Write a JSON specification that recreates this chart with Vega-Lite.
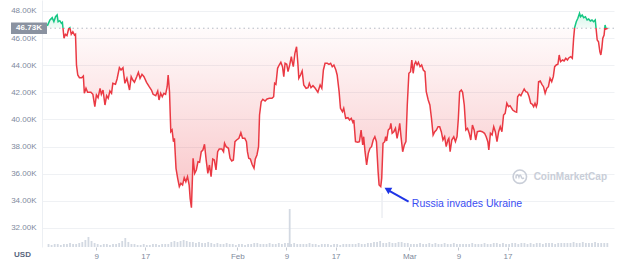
{
"$schema":"https://vega.github.io/schema/vega-lite/v6.json",
"width":572,"height":247,"autosize":"none",
"padding":{"left":42,"top":0,"right":10,"bottom":16},
"config":{"view":{"stroke":null},"font":"Liberation Sans"},
"datasets":{
"price":[
{"day":0.05,"price":46900},{"day":0.48,"price":47336},{"day":0.85,"price":47506},{"day":1.12,"price":47211},{"day":1.39,"price":47580},{"day":1.65,"price":47705},{"day":1.81,"price":47211},{"day":2.08,"price":47285},{"day":2.35,"price":47093},{"day":2.51,"price":47167},{"day":2.77,"price":45987},{"day":2.99,"price":46282},{"day":3.25,"price":46179},{"day":3.52,"price":46673},{"day":3.73,"price":46769},{"day":3.95,"price":46282},{"day":4.21,"price":46474},{"day":4.48,"price":46230},{"day":4.64,"price":46282},{"day":4.8,"price":44019},{"day":5.01,"price":43281},{"day":5.28,"price":43082},{"day":5.65,"price":43082},{"day":5.92,"price":43207},{"day":6.08,"price":41932},{"day":6.35,"price":42301},{"day":6.61,"price":42006},{"day":7.15,"price":42006},{"day":7.47,"price":41858},{"day":7.79,"price":40944},{"day":8.05,"price":41807},{"day":8.32,"price":41608},{"day":8.64,"price":42301},{"day":8.85,"price":41858},{"day":9.12,"price":42175},{"day":9.44,"price":41069},{"day":9.71,"price":41755},{"day":9.97,"price":41563},{"day":10.24,"price":42102},{"day":10.51,"price":41932},{"day":10.72,"price":42669},{"day":11.15,"price":42596},{"day":11.41,"price":42986},{"day":11.79,"price":43820},{"day":12.05,"price":43650},{"day":12.37,"price":43820},{"day":12.69,"price":42669},{"day":13.01,"price":43038},{"day":13.44,"price":42175},{"day":13.71,"price":43156},{"day":13.97,"price":42913},{"day":14.24,"price":42743},{"day":14.61,"price":43156},{"day":14.88,"price":43480},{"day":15.15,"price":43038},{"day":15.47,"price":43333},{"day":15.79,"price":43156},{"day":16.21,"price":42743},{"day":16.64,"price":42419},{"day":17.01,"price":42175},{"day":17.28,"price":41858},{"day":17.71,"price":41755},{"day":18.03,"price":42102},{"day":18.24,"price":41438},{"day":18.51,"price":41932},{"day":18.77,"price":41681},{"day":19.04,"price":41932},{"day":19.31,"price":41858},{"day":19.57,"price":42419},{"day":19.73,"price":43281},{"day":19.95,"price":42050},{"day":20.16,"price":39101},{"day":20.37,"price":39226},{"day":20.59,"price":38364},{"day":20.75,"price":38614},{"day":21.01,"price":36402},{"day":21.28,"price":35665},{"day":21.55,"price":35046},{"day":21.81,"price":35296},{"day":22.08,"price":35171},{"day":22.35,"price":35709},{"day":22.61,"price":35414},{"day":22.88,"price":35783},{"day":23.15,"price":35171},{"day":23.31,"price":34190},{"day":23.52,"price":33497},{"day":23.79,"price":37140},{"day":24.05,"price":36034},{"day":24.32,"price":36277},{"day":24.59,"price":36889},{"day":24.85,"price":36845},{"day":25.12,"price":37626},{"day":25.39,"price":37751},{"day":25.65,"price":38172},{"day":25.92,"price":37014},{"day":26.19,"price":36034},{"day":26.45,"price":36646},{"day":26.72,"price":35783},{"day":26.99,"price":37088},{"day":27.25,"price":37014},{"day":27.52,"price":36277},{"day":27.79,"price":37626},{"day":28.05,"price":37825},{"day":28.48,"price":37825},{"day":28.75,"price":37626},{"day":28.91,"price":38245},{"day":29.17,"price":37995},{"day":29.55,"price":37877},{"day":29.81,"price":37140},{"day":30.08,"price":36940},{"day":30.35,"price":37014},{"day":30.61,"price":38364},{"day":30.88,"price":38489},{"day":31.25,"price":38614},{"day":31.57,"price":39027},{"day":31.84,"price":38614},{"day":32.21,"price":38614},{"day":32.48,"price":38364},{"day":32.64,"price":37626},{"day":32.85,"price":37140},{"day":33.12,"price":37088},{"day":33.39,"price":36697},{"day":33.71,"price":36402},{"day":33.92,"price":37088},{"day":34.19,"price":37383},{"day":34.45,"price":37995},{"day":34.61,"price":40332},{"day":34.88,"price":41313},{"day":35.15,"price":41490},{"day":35.52,"price":41364},{"day":35.84,"price":41512},{"day":36.21,"price":41563},{"day":36.64,"price":41563},{"day":36.91,"price":41681},{"day":37.07,"price":42669},{"day":37.28,"price":42596},{"day":37.55,"price":43775},{"day":37.81,"price":44019},{"day":38.08,"price":44218},{"day":38.35,"price":43893},{"day":38.56,"price":43156},{"day":38.77,"price":44144},{"day":39.04,"price":44070},{"day":39.25,"price":43525},{"day":39.52,"price":44019},{"day":39.79,"price":44631},{"day":39.95,"price":44218},{"day":40.11,"price":43893},{"day":40.37,"price":44881},{"day":40.64,"price":45368},{"day":40.85,"price":44144},{"day":41.01,"price":43038},{"day":41.28,"price":43281},{"day":41.55,"price":43576},{"day":41.81,"price":42544},{"day":42.19,"price":42301},{"day":42.51,"price":42345},{"day":42.72,"price":42669},{"day":42.99,"price":42345},{"day":43.31,"price":42492},{"day":43.68,"price":42301},{"day":44.11,"price":42006},{"day":44.48,"price":42544},{"day":44.75,"price":42301},{"day":45.01,"price":43650},{"day":45.28,"price":44144},{"day":45.65,"price":44144},{"day":45.92,"price":44070},{"day":46.19,"price":44144},{"day":46.45,"price":43893},{"day":46.72,"price":44019},{"day":47.04,"price":43650},{"day":47.25,"price":43281},{"day":47.57,"price":42050},{"day":47.79,"price":40826},{"day":48.11,"price":40575},{"day":48.32,"price":40826},{"day":48.64,"price":40089},{"day":49.01,"price":40133},{"day":49.28,"price":39963},{"day":49.55,"price":40089},{"day":49.81,"price":39794},{"day":49.97,"price":39963},{"day":50.24,"price":38364},{"day":50.61,"price":38319},{"day":50.88,"price":38364},{"day":51.15,"price":39226},{"day":51.41,"price":38120},{"day":51.57,"price":38732},{"day":51.79,"price":37626},{"day":52.05,"price":36645},{"day":52.32,"price":37508},{"day":52.59,"price":37877},{"day":52.85,"price":37995},{"day":53.12,"price":38489},{"day":53.39,"price":38732},{"day":53.65,"price":38364},{"day":53.92,"price":36152},{"day":54.08,"price":35171},{"day":54.35,"price":35046},{"day":54.51,"price":35665},{"day":54.72,"price":38245},{"day":54.99,"price":38364},{"day":55.15,"price":38732},{"day":55.31,"price":38415},{"day":55.57,"price":39226},{"day":55.84,"price":39351},{"day":56.0,"price":39720},{"day":56.21,"price":38983},{"day":56.48,"price":39101},{"day":56.75,"price":39351},{"day":57.01,"price":38614},{"day":57.28,"price":39226},{"day":57.44,"price":39720},{"day":57.65,"price":38732},{"day":57.92,"price":37626},{"day":58.19,"price":38120},{"day":58.45,"price":38364},{"day":58.67,"price":41069},{"day":58.93,"price":43407},{"day":59.2,"price":43525},{"day":59.41,"price":44387},{"day":59.63,"price":43407},{"day":59.84,"price":44070},{"day":60.05,"price":44262},{"day":60.27,"price":44019},{"day":60.48,"price":44218},{"day":60.75,"price":43893},{"day":61.01,"price":44019},{"day":61.28,"price":43650},{"day":61.55,"price":43525},{"day":61.76,"price":42050},{"day":62.08,"price":41438},{"day":62.35,"price":41069},{"day":62.61,"price":40089},{"day":62.88,"price":38857},{"day":63.15,"price":39101},{"day":63.41,"price":39226},{"day":63.68,"price":39469},{"day":63.95,"price":39469},{"day":64.21,"price":39101},{"day":64.48,"price":38489},{"day":64.75,"price":38732},{"day":65.01,"price":37995},{"day":65.28,"price":38489},{"day":65.44,"price":38614},{"day":65.65,"price":37626},{"day":65.92,"price":38489},{"day":66.24,"price":38732},{"day":66.51,"price":38364},{"day":66.77,"price":38732},{"day":66.99,"price":40089},{"day":67.2,"price":42050},{"day":67.47,"price":42175},{"day":67.68,"price":42006},{"day":67.95,"price":41069},{"day":68.21,"price":39226},{"day":68.48,"price":39351},{"day":68.75,"price":38983},{"day":69.01,"price":38489},{"day":69.28,"price":39595},{"day":69.55,"price":39226},{"day":69.81,"price":38489},{"day":70.08,"price":39101},{"day":70.51,"price":39152},{"day":70.88,"price":39101},{"day":71.25,"price":38983},{"day":71.52,"price":38732},{"day":71.79,"price":38364},{"day":71.95,"price":37751},{"day":72.21,"price":38983},{"day":72.48,"price":38857},{"day":72.75,"price":39469},{"day":73.01,"price":39101},{"day":73.28,"price":38364},{"day":73.55,"price":39101},{"day":73.81,"price":39469},{"day":74.08,"price":39101},{"day":74.35,"price":40332},{"day":74.61,"price":40457},{"day":74.88,"price":41195},{"day":75.15,"price":40944},{"day":75.41,"price":41018},{"day":75.84,"price":40701},{"day":76.21,"price":40575},{"day":76.48,"price":40531},{"day":76.64,"price":41681},{"day":76.91,"price":41858},{"day":77.17,"price":41755},{"day":77.44,"price":42006},{"day":77.71,"price":42249},{"day":77.97,"price":42050},{"day":78.24,"price":42006},{"day":78.51,"price":41681},{"day":78.77,"price":41195},{"day":79.04,"price":41121},{"day":79.25,"price":40944},{"day":79.47,"price":41195},{"day":79.68,"price":40944},{"day":79.84,"price":41195},{"day":80.05,"price":42787},{"day":80.32,"price":42839},{"day":80.59,"price":42596},{"day":80.85,"price":42419},{"day":81.12,"price":41932},{"day":81.39,"price":42301},{"day":81.65,"price":42419},{"day":81.92,"price":43038},{"day":82.19,"price":42787},{"day":82.45,"price":43156},{"day":82.67,"price":43893},{"day":82.93,"price":44019},{"day":83.2,"price":44070},{"day":83.41,"price":44756},{"day":83.63,"price":44262},{"day":83.95,"price":44387},{"day":84.21,"price":44313},{"day":84.48,"price":44513},{"day":84.75,"price":44387},{"day":85.01,"price":44557},{"day":85.28,"price":44631},{"day":85.55,"price":44513},{"day":85.76,"price":45987},{"day":85.92,"price":46769},{"day":86.19,"price":47211},{"day":86.45,"price":47462},{"day":86.72,"price":47830},{"day":86.88,"price":47580},{"day":87.15,"price":47705},{"day":87.41,"price":47506},{"day":87.68,"price":47580},{"day":87.95,"price":47336},{"day":88.21,"price":47410},{"day":88.48,"price":47263},{"day":88.75,"price":47336},{"day":89.01,"price":47211},{"day":89.28,"price":47336},{"day":89.44,"price":46600},{"day":89.6,"price":45862},{"day":89.81,"price":45736},{"day":90.03,"price":44999},{"day":90.19,"price":44756},{"day":90.35,"price":45250},{"day":90.51,"price":45987},{"day":90.72,"price":46230},{"day":90.88,"price":46968},{"day":91.04,"price":46673},{"day":91.31,"price":46730}
],
"volume":[
{"day":0.25,"volume":3},{"day":0.75,"volume":2},{"day":1.25,"volume":3},{"day":1.75,"volume":3},{"day":2.25,"volume":2},{"day":2.75,"volume":3},{"day":3.25,"volume":3},{"day":3.75,"volume":4},{"day":4.25,"volume":3},{"day":4.75,"volume":3},{"day":5.25,"volume":4},{"day":5.75,"volume":5},{"day":6.25,"volume":7},{"day":6.75,"volume":10},{"day":7.25,"volume":6},{"day":7.75,"volume":4},{"day":8.25,"volume":3},{"day":8.75,"volume":2},{"day":9.25,"volume":3},{"day":9.75,"volume":3},{"day":10.25,"volume":2},{"day":10.75,"volume":3},{"day":11.25,"volume":3},{"day":11.75,"volume":4},{"day":12.25,"volume":6},{"day":12.75,"volume":9},{"day":13.25,"volume":5},{"day":13.75,"volume":3},{"day":14.25,"volume":3},{"day":14.75,"volume":2},{"day":15.25,"volume":2},{"day":15.75,"volume":3},{"day":16.25,"volume":2},{"day":16.75,"volume":2},{"day":17.25,"volume":3},{"day":17.75,"volume":3},{"day":18.25,"volume":2},{"day":18.75,"volume":3},{"day":19.25,"volume":3},{"day":19.75,"volume":3},{"day":20.25,"volume":5},{"day":20.75,"volume":6},{"day":21.25,"volume":5},{"day":21.75,"volume":6},{"day":22.25,"volume":7},{"day":22.75,"volume":6},{"day":23.25,"volume":5},{"day":23.75,"volume":5},{"day":24.25,"volume":4},{"day":24.75,"volume":5},{"day":25.25,"volume":4},{"day":25.75,"volume":4},{"day":26.25,"volume":5},{"day":26.75,"volume":4},{"day":27.25,"volume":3},{"day":27.75,"volume":4},{"day":28.25,"volume":3},{"day":28.75,"volume":3},{"day":29.25,"volume":4},{"day":29.75,"volume":3},{"day":30.25,"volume":3},{"day":30.75,"volume":2},{"day":31.25,"volume":3},{"day":31.75,"volume":3},{"day":32.25,"volume":2},{"day":32.75,"volume":3},{"day":33.25,"volume":3},{"day":33.75,"volume":4},{"day":34.25,"volume":4},{"day":34.75,"volume":3},{"day":35.25,"volume":3},{"day":35.75,"volume":3},{"day":36.25,"volume":4},{"day":36.75,"volume":3},{"day":37.25,"volume":3},{"day":37.75,"volume":4},{"day":38.25,"volume":3},{"day":38.75,"volume":4},{"day":39.25,"volume":4},{"day":39.52,"volume":38},{"day":39.75,"volume":3},{"day":40.25,"volume":4},{"day":40.75,"volume":3},{"day":41.25,"volume":3},{"day":41.75,"volume":3},{"day":42.25,"volume":3},{"day":42.75,"volume":4},{"day":43.25,"volume":3},{"day":43.75,"volume":3},{"day":44.25,"volume":2},{"day":44.75,"volume":3},{"day":45.25,"volume":3},{"day":45.75,"volume":3},{"day":46.25,"volume":2},{"day":46.75,"volume":3},{"day":47.25,"volume":3},{"day":47.75,"volume":2},{"day":48.25,"volume":3},{"day":48.75,"volume":3},{"day":49.25,"volume":3},{"day":49.75,"volume":3},{"day":50.25,"volume":3},{"day":50.75,"volume":4},{"day":51.25,"volume":3},{"day":51.75,"volume":3},{"day":52.25,"volume":4},{"day":52.75,"volume":4},{"day":53.25,"volume":5},{"day":53.75,"volume":5},{"day":54.25,"volume":6},{"day":54.75,"volume":4},{"day":55.25,"volume":4},{"day":55.75,"volume":5},{"day":56.25,"volume":4},{"day":56.75,"volume":4},{"day":57.25,"volume":5},{"day":57.75,"volume":5},{"day":58.25,"volume":4},{"day":58.75,"volume":4},{"day":59.25,"volume":3},{"day":59.75,"volume":3},{"day":60.25,"volume":3},{"day":60.75,"volume":4},{"day":61.25,"volume":3},{"day":61.75,"volume":3},{"day":62.25,"volume":4},{"day":62.75,"volume":3},{"day":63.25,"volume":4},{"day":63.75,"volume":3},{"day":64.25,"volume":3},{"day":64.75,"volume":4},{"day":65.25,"volume":3},{"day":65.75,"volume":3},{"day":66.25,"volume":4},{"day":66.75,"volume":3},{"day":67.25,"volume":3},{"day":67.75,"volume":3},{"day":68.25,"volume":3},{"day":68.75,"volume":3},{"day":69.25,"volume":4},{"day":69.75,"volume":3},{"day":70.25,"volume":3},{"day":70.75,"volume":3},{"day":71.25,"volume":4},{"day":71.75,"volume":3},{"day":72.25,"volume":3},{"day":72.75,"volume":4},{"day":73.25,"volume":4},{"day":73.75,"volume":3},{"day":74.25,"volume":4},{"day":74.75,"volume":3},{"day":75.25,"volume":3},{"day":75.75,"volume":4},{"day":76.25,"volume":4},{"day":76.75,"volume":3},{"day":77.25,"volume":4},{"day":77.75,"volume":4},{"day":78.25,"volume":3},{"day":78.75,"volume":4},{"day":79.25,"volume":3},{"day":79.75,"volume":4},{"day":80.25,"volume":4},{"day":80.75,"volume":3},{"day":81.25,"volume":4},{"day":81.75,"volume":4},{"day":82.25,"volume":4},{"day":82.75,"volume":3},{"day":83.25,"volume":4},{"day":83.75,"volume":4},{"day":84.25,"volume":4},{"day":84.75,"volume":4},{"day":85.25,"volume":4},{"day":85.75,"volume":5},{"day":86.25,"volume":4},{"day":86.75,"volume":4},{"day":87.25,"volume":5},{"day":87.75,"volume":4},{"day":88.25,"volume":4},{"day":88.75,"volume":4},{"day":89.25,"volume":5},{"day":89.75,"volume":4},{"day":90.25,"volume":4},{"day":90.75,"volume":4},{"day":91.25,"volume":4}
],
"refprice":[{"price":46730,"label":"46.73K"}],
"arrow":[{"day":55.6,"price":34780,"day2":58.88,"price2":33939}],
"arrowhead":[{"day":55.44,"price":34853}],
"note":[{"day":59.41,"price":33769,"label":"Russia invades Ukraine"}],
"ghost":[{"day":54.56,"price":34581,"price2":32738}],
"watermark":[{"day":77.0,"price":35782,"textday":79.25,"label":"CoinMarketCap"}]
},
"layer":[
{"layer":[
 {"data":{"name":"price"},
  "mark":{"type":"area","line":false,"fill":{"gradient":"linear","x1":0,"y1":0,"x2":0,"y2":1,"stops":[{"offset":0,"color":"rgba(22,199,132,0.18)"},{"offset":0.0767,"color":"rgba(22,199,132,0.05)"},{"offset":0.0768,"color":"rgba(234,57,67,0.02)"},{"offset":1,"color":"rgba(234,57,67,0.30)"}]}},
  "encoding":{
   "x":{"field":"day","type":"quantitative","scale":{"domain":[0,91.52],"nice":false,"zero":false},
    "axis":{"values":[8,16,31,39,47,59,67,75],"labelExpr":"datum.value==31?'Feb':datum.value==59?'Mar':(datum.value==8||datum.value==39||datum.value==67)?'9':'17'","labelOverlap":false,"domain":false,"grid":false,"ticks":true,"tickSize":3,"tickColor":"#c3c8d1","labelColor":"#808a9d","labelFontSize":8,"labelFont":"Liberation Sans","labelPadding":2,"title":"USD","titleX":-20,"titleY":7.5,"titleAlign":"center","titleBaseline":"middle","titleColor":"#58667e","titleFontSize":8,"titleFontWeight":"bold","titleFont":"Liberation Sans"}},
   "y":{"field":"price","type":"quantitative","scale":{"domain":[30599,48811],"nice":false,"zero":false},
    "axis":{"values":[32000,34000,36000,38000,40000,42000,44000,46000,48000],"tickCount":9,"labelExpr":"format(datum.value/1000,'.2f')+'K'","labelOverlap":false,"grid":true,"gridColor":"#eff1f4","domain":true,"domainColor":"#eceff3","ticks":false,"labelPadding":6,"labelColor":"#808a9d","labelFontSize":8,"labelFont":"Liberation Sans","title":null}},
   "y2":{"datum":46730}}},
 {"data":{"name":"refprice"},"mark":{"type":"rule","color":"#b4bac4","strokeDash":[1.5,3],"strokeWidth":1},"encoding":{"y":{"field":"price","type":"quantitative"}}},
 {"data":{"name":"price"},
  "mark":{"type":"line","strokeWidth":1.5,"stroke":{"gradient":"linear","x1":0,"y1":0,"x2":0,"y2":1,"stops":[{"offset":0,"color":"#16c784"},{"offset":0.0767,"color":"#16c784"},{"offset":0.0768,"color":"#ea3943"},{"offset":1,"color":"#ea3943"}]}},
  "encoding":{"x":{"field":"day","type":"quantitative"},"y":{"field":"price","type":"quantitative"}}},
 {"data":{"name":"ghost"},"mark":{"type":"rule","color":"#eceef2","strokeWidth":1.5},"encoding":{"x":{"field":"day","type":"quantitative"},"y":{"field":"price","type":"quantitative"},"y2":{"field":"price2"}}},
 {"data":{"name":"arrow"},"mark":{"type":"rule","color":"#1f35e6","strokeWidth":2},"encoding":{"x":{"field":"day","type":"quantitative"},"x2":{"field":"day2"},"y":{"field":"price","type":"quantitative"},"y2":{"field":"price2"}}},
 {"data":{"name":"arrowhead"},"mark":{"type":"point","shape":"triangle-up","angle":300,"size":60,"filled":true,"opacity":1,"color":"#1f35e6","strokeWidth":0},"encoding":{"x":{"field":"day","type":"quantitative"},"y":{"field":"price","type":"quantitative"}}},
 {"data":{"name":"note"},"mark":{"type":"text","align":"left","baseline":"middle","fontSize":10.5,"font":"Liberation Sans","color":"#3a4df2"},"encoding":{"x":{"field":"day","type":"quantitative"},"y":{"field":"price","type":"quantitative"},"text":{"field":"label"}}},
 {"data":{"name":"watermark"},"mark":{"type":"point","shape":"circle","size":180,"filled":false,"opacity":1,"color":"#c9ced8","strokeWidth":1.6},"encoding":{"x":{"field":"day","type":"quantitative"},"y":{"field":"price","type":"quantitative"}}},
 {"data":{"name":"watermark"},"mark":{"type":"point","shape":"M-0.5,0.25 L-0.5,-0.1 Q-0.3,-0.5 -0.12,0.05 Q0.05,-0.5 0.2,0.05 Q0.32,0.4 0.55,0.15","size":225,"filled":false,"opacity":1,"color":"#c9ced8","strokeWidth":1.5},"encoding":{"x":{"field":"day","type":"quantitative"},"y":{"field":"price","type":"quantitative"}}},
 {"data":{"name":"watermark"},"mark":{"type":"text","align":"left","baseline":"middle","fontSize":10,"fontWeight":"bold","font":"Liberation Sans","color":"#c9ced8"},"encoding":{"x":{"field":"textday","type":"quantitative"},"y":{"field":"price","type":"quantitative"},"text":{"field":"label"}}},
 {"data":{"name":"refprice"},"mark":{"type":"point","shape":"M-2,-0.32L0,-0.32L0,0.32L-2,0.32Z","size":1296,"filled":true,"opacity":1,"color":"#8a92a0","strokeWidth":0},"encoding":{"x":{"datum":0},"y":{"field":"price","type":"quantitative"}}},
 {"data":{"name":"refprice"},"mark":{"type":"text","align":"center","baseline":"middle","dx":-18,"fontSize":8,"fontWeight":"bold","font":"Liberation Sans","color":"#ffffff"},"encoding":{"x":{"datum":0},"y":{"field":"price","type":"quantitative"},"text":{"field":"label"}}}
]},
{"data":{"name":"volume"},"mark":{"type":"bar","size":1.8,"color":"#d3d9e2"},
 "encoding":{"x":{"field":"day","type":"quantitative"},"y":{"field":"volume","type":"quantitative","scale":{"domain":[0,247],"nice":false},"axis":null}}}
],
"resolve":{"scale":{"y":"independent"}}
}
